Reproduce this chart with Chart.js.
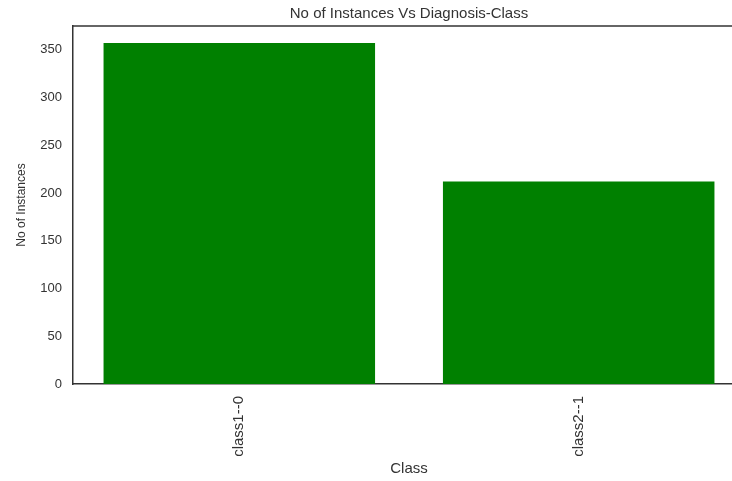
<!DOCTYPE html>
<html>
<head>
<meta charset="utf-8">
<script src="https://cdn.jsdelivr.net/npm/chart.js@4/dist/chart.umd.min.js"></script>
<style>
  html, body { margin: 0; padding: 0; background: #fff; }
  #wrap { width: 732px; height: 481px; overflow: hidden; position: relative; }
  canvas { display: block; }
</style>
</head>
<body>
<div id="wrap"><canvas id="chart" width="745" height="481"></canvas></div>
<script>
// data
const categories = ['class1--0', 'class2--1'];
const counts = [357, 212];
const yTicks = [0, 50, 100, 150, 200, 250, 300, 350];

const textColor = '#333333';
const spineColor = '#333333';
const fontFamily = "'Liberation Sans', Arial, sans-serif";

// matplotlib draws a top spine too, chart.js only has the axis borders
const topSpine = {
  id: 'topSpine',
  afterDraw (chart) {
    const {ctx, chartArea} = chart;
    ctx.save();
    ctx.strokeStyle = spineColor;
    ctx.lineWidth = 1.5;
    ctx.beginPath();
    ctx.moveTo(chartArea.left, chartArea.top);
    ctx.lineTo(chartArea.right, chartArea.top);
    ctx.stroke();
    ctx.restore();
  }
};

const ctx = document.getElementById('chart').getContext('2d');
new Chart(ctx, {
  type: 'bar',
  data: {
    datasets: [{
      data: counts.map((v, i) => ({x: i, y: v})),
      backgroundColor: '#008000',
      borderWidth: 0,
      barPercentage: 0.8,
      categoryPercentage: 1
    }]
  },
  options: {
    responsive: false,
    animation: false,
    devicePixelRatio: 1,
    layout: {padding: 0},
    plugins: {
      legend: {display: false},
      tooltip: {enabled: false},
      title: {
        display: true,
        text: 'No of Instances Vs Diagnosis-Class',
        fullSize: false,
        color: textColor,
        font: {family: fontFamily, size: 15, weight: 'normal'},
        padding: {top: 5, bottom: 3}
      }
    },
    scales: {
      x: {
        type: 'linear',
        min: -0.49,
        max: 1.49,
        offset: false,
        grid: {display: false, drawTicks: false, offset: false},
        border: {display: true, color: spineColor, width: 1.5},
        afterBuildTicks: (axis) => {
          axis.ticks = categories.map((_, i) => ({value: i}));
        },
        afterFit: (scale) => { scale.height = 97; },
        ticks: {
          minRotation: 90,
          maxRotation: 90,
          padding: 12,
          color: textColor,
          font: {family: fontFamily, size: 15},
          callback: (v) => categories[v]
        },
        title: {
          display: true,
          text: 'Class',
          color: textColor,
          font: {family: fontFamily, size: 15},
          padding: {top: 0, bottom: 3}
        }
      },
      y: {
        min: 0,
        max: 374.85,
        grid: {display: false, drawTicks: false},
        border: {display: true, color: spineColor, width: 1.5},
        afterBuildTicks: (axis) => {
          axis.ticks = yTicks.map((v) => ({value: v}));
        },
        afterFit: (scale) => { scale.width = 73; },
        ticks: {
          padding: 11,
          color: textColor,
          font: {family: fontFamily, size: 13}
        },
        title: {
          display: true,
          text: 'No of Instances',
          color: textColor,
          font: {family: fontFamily, size: 12},
          padding: {top: 14, bottom: 0}
        }
      }
    }
  },
  plugins: [topSpine]
});
</script>
</body>
</html>
